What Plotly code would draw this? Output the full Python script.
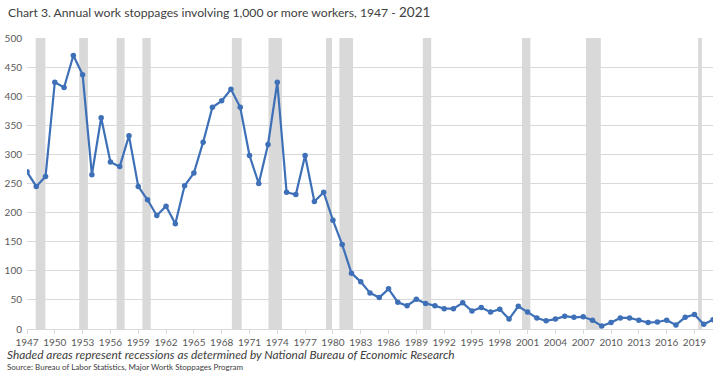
import plotly.graph_objects as go

years = list(range(1947, 2022))
stoppages = [270, 245, 262, 424, 415, 470, 437, 265, 363, 287,
             279, 332, 245, 222, 195, 211, 181, 246, 268, 321,
             381, 392, 412, 381, 298, 250, 317, 424, 235, 231,
             298, 219, 235, 187, 145, 96, 81, 62, 54, 69,
             46, 40, 51, 44, 40, 35, 35, 45, 31, 37,
             29, 34, 17, 39, 29, 19, 14, 17, 22, 20,
             21, 15, 5, 11, 19, 19, 15, 11, 12, 15,
             7, 20, 25, 8, 16]

recession_start = [1947.94, 1952.63, 1956.67, 1959.45, 1969.1, 1973.05,
                   1979.25, 1980.7, 1989.7, 2000.4, 2007.3, 2019.4]
recession_end = [1948.98, 1953.57, 1957.53, 1960.35, 1970.16, 1974.5,
                 1979.9, 1982.17, 1990.6, 2001.3, 2008.9, 2019.8]

tick_years = list(range(1947, 2022, 3))
y_ticks = list(range(0, 501, 50))

FONT = "Lato"
TXT = "#595959"

fig = go.Figure()
fig.add_trace(go.Scatter(
    x=years, y=stoppages, mode="lines+markers",
    line=dict(color="#3E70B8", width=2.2),
    marker=dict(size=5.5, color="#3E70B8"),
    hoverinfo="x+y", showlegend=False,
))

shapes = []
for s, e in zip(recession_start, recession_end):
    shapes.append(dict(type="rect", xref="x", yref="paper", x0=s, x1=e, y0=0, y1=1,
                       fillcolor="#D9D9D9", line=dict(width=0), layer="below"))

fig.update_layout(
    width=720, height=374,
    margin=dict(l=27, r=7, t=38, b=45, autoexpand=False),
    paper_bgcolor="white", plot_bgcolor="white",
    font=dict(family=FONT, color=TXT, size=11),
    shapes=shapes,
    title=dict(
        text="Chart 3. Annual work stoppages involving 1,000 or more workers, 1947 - <span style='font-size:13.5px'>2021</span>",
        font=dict(family=FONT, size=12.2, color="#404040"),
        xref="container", yref="container", x=8/720, y=1-13/374,
        xanchor="left", yanchor="middle",
    ),
    xaxis=dict(
        range=[1947, 2021], tickmode="array", tickvals=tick_years,
        ticktext=[str(t) for t in tick_years], tickangle=0, automargin=False,
        showgrid=False, zeroline=False, showline=True, linecolor="#D9D9D9",
        ticks="outside", ticklen=4, tickcolor="#D9D9D9",
        tickfont=dict(family=FONT, size=10, color=TXT),
    ),
    yaxis=dict(
        range=[0, 500], tickmode="array", tickvals=y_ticks, automargin=False,
        showgrid=True, gridcolor="#D9D9D9", gridwidth=1, zeroline=False,
        tickfont=dict(family=FONT, size=10, color=TXT),
        ticklabelstandoff=4,
    ),
    annotations=[
        dict(text="<i>Shaded areas represent recessions as determined by National Bureau of Economic Research</i>",
             xref="paper", yref="paper", x=(5-27)/686, y=(329-354)/291,
             xanchor="left", yanchor="middle", showarrow=False,
             font=dict(family=FONT, size=11.9, color="#404040")),
        dict(text="Source: Bureau of Labor Statistics, Major Wortk Stoppages Program",
             xref="paper", yref="paper", x=(5-27)/686, y=(329-367)/291,
             xanchor="left", yanchor="middle", showarrow=False,
             font=dict(family=FONT, size=8, color="#404040")),
    ],
)

fig.write_html("out.html", config={"displayModeBar": False},
               post_script="document.body.style.margin='0px';")
